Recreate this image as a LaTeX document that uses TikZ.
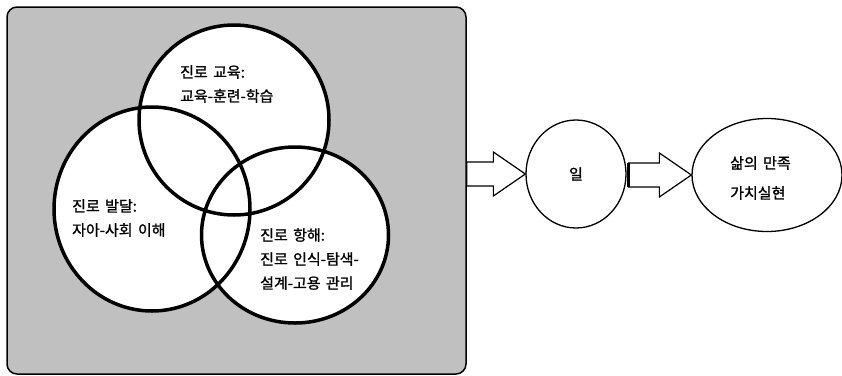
\documentclass[tikz,border=0pt]{standalone}
\usepackage{fontspec}
\setmainfont{Noto Sans CJK KR}[RawFeature={embolden=1.2},WordSpace=1.6]
\usetikzlibrary{calc,shapes.geometric}
\definecolor{panelgray}{RGB}{192,192,192}
\tikzset{
    panel/.style={draw=black,fill=panelgray,line width=1.5pt,rounded corners=10pt,inner sep=0pt},
    vennline/.style={black,line width=3.5pt},
    venntext/.style={align=left,anchor=west,inner sep=0pt,font=\fontsize{15}{24}\selectfont},
    stage/.style={draw=black,fill=white,ellipse,line width=1.3pt,inner sep=0pt},
    stagetext/.style={align=left,anchor=west,inner sep=0pt,font=\fontsize{15}{30}\selectfont},
    blockarrow/.style={draw=black,fill=white,line width=1.2pt,line join=miter},
    arrowbase/.style={black,line width=2.5pt}
}

\begin{document}
\begin{tikzpicture}[x=1pt,y=-1pt]
\useasboundingbox (0,0) rectangle (842,375);
% grey panel with the three circles
\node[panel,minimum width=459pt,minimum height=367pt] (venn) at (236.5,190.5) {};
\fill[white] (234,120) circle (95pt) (152,209) ellipse (98pt and 102pt) (295,235) ellipse (93.5pt and 88pt);
\draw[vennline] (234,120) circle (95pt);
\draw[vennline] (152,209) ellipse (98pt and 102pt);
\draw[vennline] (295,235) ellipse (93.5pt and 88pt);
\node[venntext] (edu) at (180,84) {진로 교육:\\교육-훈련-학습};
\node[venntext] (dev) at (72,218) {진로 발달:\\자아-사회 이해};
\node[venntext] (nav) at (260,259) {진로 항해:\\진로 인식-탐색-\\설계-고용 관리};
% work and life
\node[stage,minimum width=100pt,minimum height=108pt] (work) at (576,174) {};
\node[stagetext,anchor=center] (worktext) at (work.center) {일};
\node[stage,minimum width=150pt,minimum height=113pt] (life) at (767,175) {};
\node[stagetext] (lifetext) at (730,178) {삶의 만족\\가치실현};
% block arrows
\draw[blockarrow] ($(venn.east |- work.west)+(0,-12)$) -- ($(work.west)+(-32,-12)$) -- ($(work.west)+(-32,-22)$)
    -- (work.west) -- ($(work.west)+(-32,22)$) -- ($(work.west)+(-32,12)$) -- ($(venn.east |- work.west)+(0,12)$) -- cycle;
\draw[blockarrow] ($(work.east |- life.west)+(2,-12)$) -- ($(life.west)+(-32,-12)$) -- ($(life.west)+(-32,-22)$)
    -- (life.west) -- ($(life.west)+(-32,22)$) -- ($(life.west)+(-32,12)$) -- ($(work.east |- life.west)+(2,12)$) -- cycle;
\draw[arrowbase] ($(work.east |- life.west)+(2,-12)$) -- ($(work.east |- life.west)+(2,12)$);
\end{tikzpicture}
\end{document}
